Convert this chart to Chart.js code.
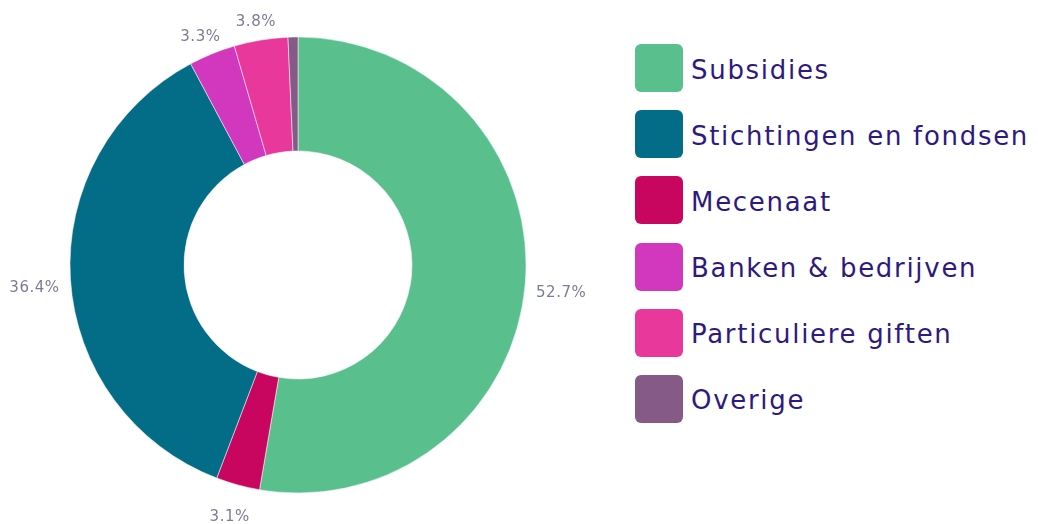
<!DOCTYPE html>
<html>
<head>
<meta charset="utf-8">
<script src="https://cdn.jsdelivr.net/npm/chart.js@4.4.1/dist/chart.umd.min.js"></script>
<style>
  body { margin: 0; background: #fff; }
  #wrap { position: relative; width: 1038px; height: 524px; }
  #chartBox { position: absolute; left: 0; top: 0; width: 596px; height: 524px; }
  #legenda { position: absolute; left: 635px; top: 44px; font-family: "DejaVu Sans", sans-serif; }
  .item { display: flex; align-items: center; height: 48px; margin-bottom: 18.2px; }
  .vak { width: 48px; height: 48px; border-radius: 6px; flex: none; }
  .tekst { margin-left: 8px; font-size: 26px; letter-spacing: 1.7px; color: #2e1a7e; padding-top: 3px; white-space: nowrap; }
</style>
</head>
<body>
<div id="wrap">
  <div id="chartBox"><canvas id="grafiekInkomsten"></canvas></div>
  <div id="legenda"></div>
</div>
<script>
// Categorieen (volgorde van de legenda)
const categorieen = ['Subsidies', 'Stichtingen en fondsen', 'Mecenaat', 'Banken & bedrijven', 'Particuliere giften', 'Overige'];
const percentages = [52.7, 36.4, 3.1, 3.3, 3.8, 0.7];
const kleuren = ['#58bf8d', '#036d87', '#c9065f', '#d138bd', '#e8389b', '#865a87'];
// volgorde waarin de segmenten met de klok mee getekend worden
const segmentVolgorde = [0, 2, 1, 3, 4, 5];

// Labels met percentages buiten de ring
const percentageLabels = {
  id: 'percentageLabels',
  afterDatasetsDraw(chart) {
    const ctx = chart.ctx;
    const meta = chart.getDatasetMeta(0);
    ctx.save();
    ctx.font = '15px "DejaVu Sans", sans-serif';
    ctx.letterSpacing = '0.5px';
    ctx.fillStyle = '#7b7d98';
    ctx.textAlign = 'center';
    ctx.textBaseline = 'middle';
    meta.data.forEach((arc, i) => {
      const waarde = chart.data.datasets[0].data[i];
      if (waarde < 1) return;
      const hoek = (arc.startAngle + arc.endAngle) / 2;
      const ux = Math.cos(hoek), uy = Math.sin(hoek);
      const tekst = waarde.toFixed(1) + '%';
      const halfB = ctx.measureText(tekst).width / 2;
      const r = arc.outerRadius + 11;
      const x = arc.x + r * ux + halfB * ux;
      let y = arc.y + r * uy + 7 * uy;
      if (uy > -0.2) y += 7 + 8 * Math.max(uy, 0);
      ctx.fillText(tekst, x, y);
    });
    ctx.restore();
  }
};

const ctx = document.getElementById('grafiekInkomsten').getContext('2d');
new Chart(ctx, {
  type: 'doughnut',
  data: {
    labels: segmentVolgorde.map(i => categorieen[i]),
    datasets: [{
      data: segmentVolgorde.map(i => percentages[i]),
      backgroundColor: segmentVolgorde.map(i => kleuren[i]),
      borderColor: 'rgba(255,255,255,0.5)',
      borderWidth: 1,
      radius: 228,
      cutout: '50%'
    }]
  },
  options: {
    responsive: true,
    maintainAspectRatio: false,
    animation: false,
    layout: { padding: { top: 6 } },
    plugins: {
      legend: { display: false },
      tooltip: { enabled: false }
    }
  },
  plugins: [percentageLabels]
});

// Legenda
const legenda = document.getElementById('legenda');
categorieen.forEach((naam, i) => {
  const item = document.createElement('div');
  item.className = 'item';
  item.innerHTML = `<div class="vak" style="background:${kleuren[i]}"></div><div class="tekst">${naam}</div>`;
  legenda.appendChild(item);
});
</script>
</body>
</html>
